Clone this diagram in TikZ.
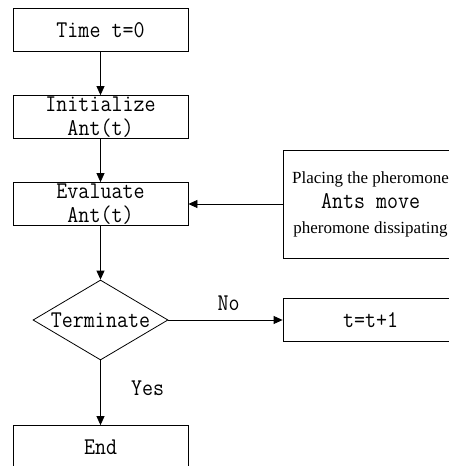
\documentclass[tikz,border=0pt]{standalone}
\usepackage{fontspec}
\setmainfont{Liberation Serif}
\newfontfamily\simmono[FakeStretch=0.89]{Latin Modern Mono}
\usetikzlibrary{shapes.geometric,arrows.meta}

\begin{document}
\begin{tikzpicture}[x=1pt,y=-1pt,
		box/.style={draw=black,line width=0.8pt,minimum width=175pt,minimum height=43pt,inner sep=0pt,align=center,font=\fontsize{24}{24.5}\selectfont\simmono},
		cond/.style={draw=black,line width=0.8pt,diamond,aspect=1.7,minimum width=135pt,minimum height=80pt,inner sep=0pt,font=\fontsize{24}{24.5}\selectfont\simmono},
		lbl/.style={inner sep=0pt,font=\fontsize{24}{24.5}\selectfont\simmono},
		flow/.style={draw=black,line width=0.8pt,-{Triangle[length=9pt,width=8pt]}}]
			\useasboundingbox (0,0) rectangle (449,466);
			\node[box] (time) at ( 100.5 , 30 ) {Time t=0};
			\node[box] (init) at ( 100.5 , 117 ) {Initialize\\Ant(t)};
			\node[box] (eval) at ( 100.5 , 204 ) {Evaluate\\Ant(t)};
			\node[cond] (term) at ( 100.5 , 320 ) {Terminate};
			\node[box] (end) at ( 100.5 , 447 ) {End};
			\node[box,minimum height=108pt] (move) at ( 370.5 , 204 ) {{\fontsize{17}{26}\selectfont\rmfamily Placing the pheromone}\\[1pt]Ants move\\{\fontsize{17}{26}\selectfont\rmfamily pheromone dissipating}};
			\node[box] (incr) at ( 370.5 , 320 ) {t=t+1};
			\draw[flow] (time) -- (init);
			\draw[flow] (init) -- (eval);
			\draw[flow] (eval) -- (term);
			\draw[flow] (term) -- (end);
			\draw[flow] (term) -- (incr);
			\draw[flow] (move) -- (eval);
			\node[lbl] (no) at ( 228.5 , 303 ) {No};
			\node[lbl] (yes) at ( 147.5 , 388 ) {Yes};
		\end{tikzpicture}
\end{document}
